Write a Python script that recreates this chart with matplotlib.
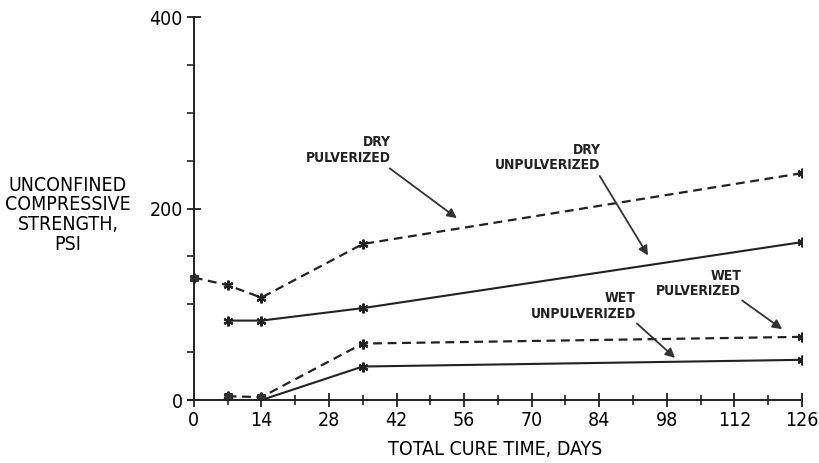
import numpy as np
import matplotlib.pyplot as plt

# data (days, psi)
dry_pulv_days = [0, 7, 14, 35, 126]
dry_pulv_psi = [128, 120, 107, 163, 237]
dry_unpulv_days = [7, 14, 35, 126]
dry_unpulv_psi = [83, 83, 96, 165]
wet_pulv_days = [7, 14, 35, 126]
wet_pulv_psi = [4, 3, 59, 66]
wet_unpulv_days = [7, 14, 35, 126]
wet_unpulv_psi = [0, 0, 35, 42]

x_ticks = [0, 14, 28, 42, 56, 70, 84, 98, 112, 126]
y_ticks = [0, 200, 400]

plt.rcParams['font.family'] = ['DejaVu Sans']
plt.rcParams['font.stretch'] = 'condensed'

fig = plt.figure(figsize=(8.2, 4.63), dpi=100)
# x runs 0..126 from px 194 to 802, y 0..400 from px 400 to 17
ax = fig.add_axes([188 / 820, 0.136, (802 - 188) / 820, 0.827])

star = (6, 2, 0)
dash = (0, (4, 2.5))
ax.plot(dry_pulv_days, dry_pulv_psi, ls=dash, color='#222', lw=1.6,
        marker=star, ms=7, mew=1.6)
ax.plot(dry_unpulv_days, dry_unpulv_psi, ls='-', color='#222', lw=1.5,
        marker=star, ms=7, mew=1.6)
ax.plot(wet_pulv_days, wet_pulv_psi, ls=dash, color='#222', lw=1.6,
        marker=star, ms=7, mew=1.6)
ax.plot(wet_unpulv_days, wet_unpulv_psi, ls='-', color='#222', lw=1.5,
        marker=star, ms=7, mew=1.6)
# round markers at the early points
ax.plot(dry_pulv_days[:1], dry_pulv_psi[:1], 'o', color='#333', ms=5)
ax.plot(wet_pulv_days[:2], wet_pulv_psi[:2], 'o', color='#333', ms=5)

# labels with arrows: text, arrow tail, arrow head, text anchor (right/bottom)
labels = [
    ("DRY\nPULVERIZED", (40.6, 242), (54.5, 190), (40.8, 246)),
    ("DRY\nUNPULVERIZED", (84.1, 234), (94.1, 151), (84.3, 238)),
    ("WET\nPULVERIZED", (113.6, 104), (121.9, 74), (113.4, 107)),
    ("WET\nUNPULVERIZED", (91.8, 80), (99.7, 44), (91.6, 83)),
]
for txt, tail, head, tpos in labels:
    ax.annotate("", xy=head, xytext=tail,
                arrowprops=dict(arrowstyle='-|>', color='#333', lw=1.3,
                                mutation_scale=14, shrinkA=0, shrinkB=0))
    ax.text(tpos[0], tpos[1], txt, ha='right', va='bottom', fontsize=10,
            fontweight='bold', linespacing=1.1, color='#222')

ax.set_xlim(-1.2, 126)
ax.set_ylim(0, 400)
ax.spines['left'].set_position(('data', 0))
ax.set_xticks(x_ticks)
ax.set_xticks(np.arange(7, 127, 14), minor=True)
ax.set_yticks(y_ticks)
ax.set_yticks(np.arange(0, 401, 50), minor=True)
ax.tick_params(which='major', direction='inout', length=10, width=1.3,
               color='#222', labelsize=14, pad=3)
ax.tick_params(axis='x', which='minor', direction='inout', length=7,
               width=1.2, color='#222')
ax.tick_params(axis='y', which='minor', direction='out', length=5,
               width=1.2, color='#222')
for s in ['top', 'right']:
    ax.spines[s].set_visible(False)
for s in ['left', 'bottom']:
    ax.spines[s].set_linewidth(1.4)
    ax.spines[s].set_color('#222')

ax.set_xlabel("TOTAL CURE TIME, DAYS", fontsize=14, labelpad=7)
fig.text(0.083, 0.536, "UNCONFINED\nCOMPRESSIVE\nSTRENGTH,\nPSI", ha='center',
         va='center', fontsize=14, linespacing=1.05)

fig.savefig("out.png", dpi=100)
